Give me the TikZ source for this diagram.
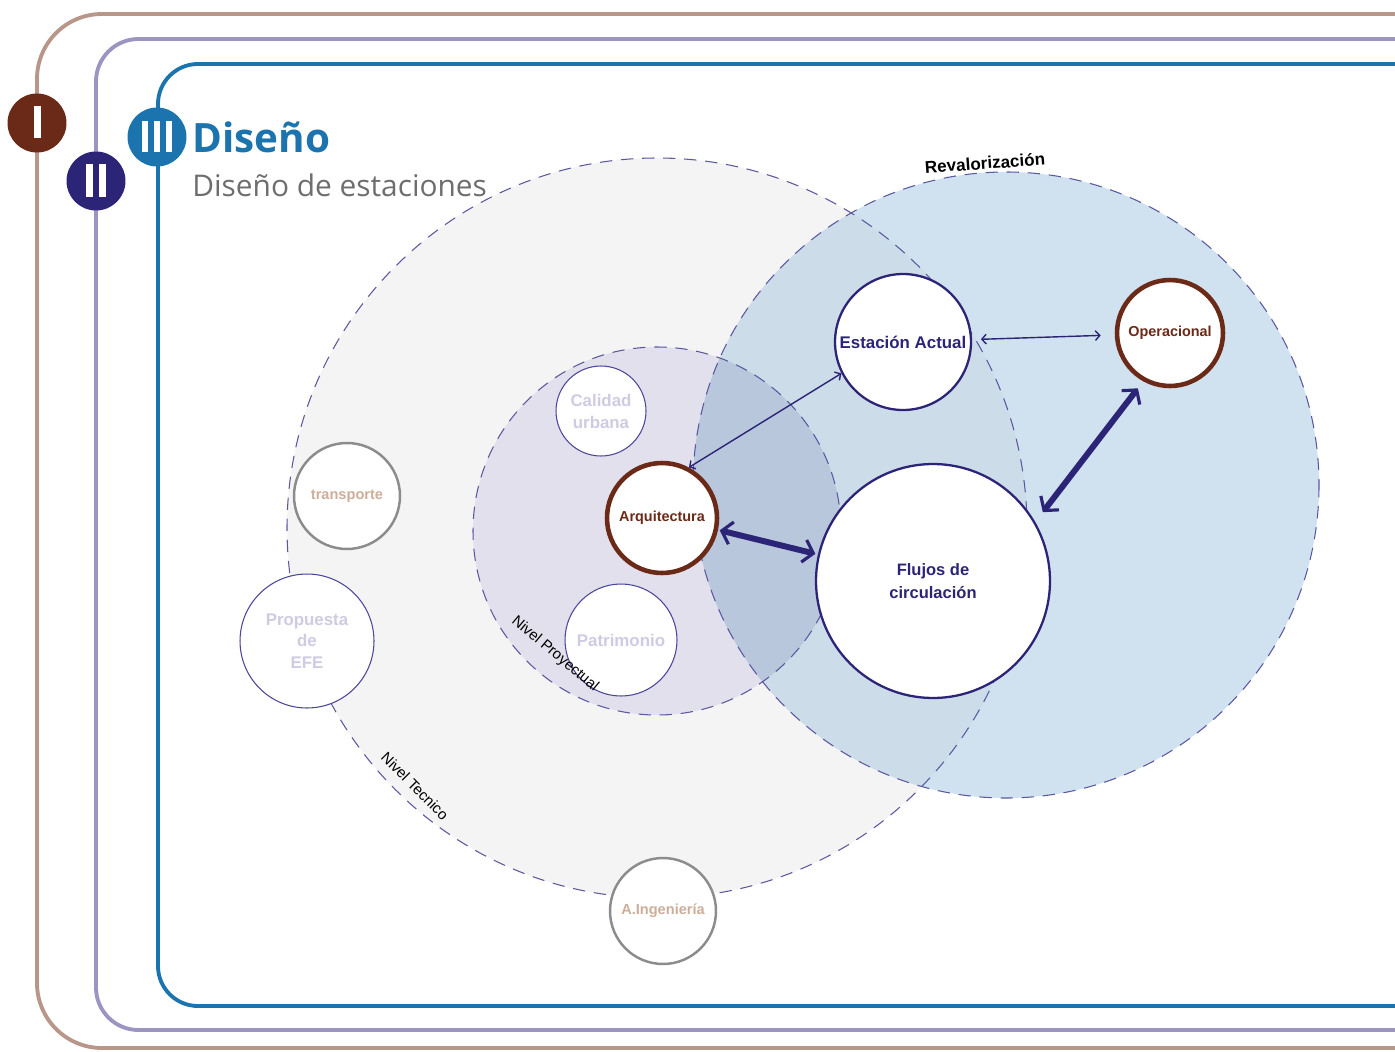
\documentclass[tikz,border=0pt]{standalone}
\usepackage{fontspec}
\setmainfont{Liberation Sans}
\newfontfamily\titlefont{Open Sans}
\usetikzlibrary{arrows.meta}
\definecolor{brownframe}{HTML}{B8978A}
\definecolor{purpleframe}{HTML}{9C95C2}
\definecolor{blueframe}{HTML}{1C74AF}
\definecolor{badgebrown}{HTML}{6B2A17}
\definecolor{navy}{HTML}{2B2477}
\definecolor{tecfill}{HTML}{F4F4F4}
\definecolor{proyfill}{HTML}{E2E0EC}
\definecolor{revfill}{HTML}{D0E2EF}
\definecolor{revtec}{HTML}{CCDCE8}
\definecolor{revproy}{HTML}{B8C7DB}
\definecolor{dashcol}{HTML}{5A58A0}
\definecolor{lav}{HTML}{CFCBE3}
\definecolor{tanc}{HTML}{CDAE9A}
\definecolor{grayring}{HTML}{8C8C8C}
\definecolor{thinnavy}{HTML}{4A4699}
\definecolor{subgray}{HTML}{6E6E6E}
\begin{document}
\begin{tikzpicture}[x=0.02cm,y=-0.02cm,
  zone/.style={draw=dashcol, line width=0.6pt, dash pattern=on 7pt off 5pt},
  bub/.style={circle, fill=white, inner sep=0pt, align=center, font=\bfseries\fontsize{9.6}{12.5}\selectfont},
  pale/.style={bub, draw=thinnavy, line width=0.6pt, text=lav},
  tech/.style={bub, draw=grayring, line width=1.4pt, text=tanc, font=\bfseries\fontsize{8.3}{10}\selectfont},
  core/.style={bub, draw=navy, line width=1.3pt, text=navy},
  keynode/.style={bub, draw=badgebrown, line width=2.6pt, text=badgebrown, font=\bfseries\fontsize{8.2}{10}\selectfont},
  thinarrow/.style={draw=navy, line width=0.8pt, {Straight Barb[length=2.5pt,width=5.5pt]}-{Straight Barb[length=2.5pt,width=5.5pt]}},
  thickarrow/.style={draw=navy, line width=3.4pt, {Straight Barb[length=5.5pt,width=13pt,line width=1.8pt]}-{Straight Barb[length=5.5pt,width=13pt,line width=1.8pt]}},
  badge/.style={circle, inner sep=0pt, minimum size=1.18cm},
  frame/.style={line width=2.2pt},
  lvl/.style={font=\fontsize{8.5}{10}\selectfont, text=black}
]
\useasboundingbox (0,0) rectangle (1395,1051);
\clip (0,0) rectangle (1395,1051);

% frames
\draw[frame, draw=brownframe, rounded corners=1.3cm] (1450,14) -- (37,14) -- (37,1048) -- (1450,1048);
\draw[frame, draw=purpleframe, rounded corners=0.85cm] (1450,39) -- (96,39) -- (96,1030) -- (1450,1030);
\draw[frame, draw=blueframe, rounded corners=0.8cm] (1450,64) -- (158,64) -- (158,1006) -- (1450,1006);

% badges
\node[badge, fill=badgebrown] (bI) at (37,123) {};
\fill[white] (33.5,106) rectangle (40.5,138);
\node[badge, fill=navy] (bII) at (96,181) {};
\fill[white] (86,164) rectangle (93,197);
\fill[white] (99,164) rectangle (106,197);
\node[badge, fill=blueframe] (bIII) at (157,137) {};
\fill[white] (142,121) rectangle (148,152);
\fill[white] (154,121) rectangle (160,152);
\fill[white] (166,121) rectangle (172,152);

% titles
\node[anchor=base west, inner sep=0pt, text=blueframe, font=\titlefont\bfseries\fontsize{23}{26}\selectfont] (title) at (192,152) {Diseño};
\node[anchor=base west, inner sep=0pt, text=subgray, font=\titlefont\fontsize{17}{20}\selectfont] (subtitle) at (192,196) {Diseño de estaciones};

% zones fills
\fill[tecfill] (657,528) circle[radius=370];
\fill[proyfill] (657,531) circle[radius=184];
\fill[revfill] (1006,485) circle[radius=313];
\begin{scope}
  \clip (1006,485) circle[radius=313];
  \fill[revtec] (657,528) circle[radius=370];
  \fill[revproy] (657,531) circle[radius=184];
\end{scope}
% zone outlines
\draw[zone] (657,528) circle[radius=370];
\draw[zone] (657,531) circle[radius=184];
\draw[zone] (1006,485) circle[radius=313];

% nodes
\node[pale, minimum size=1.8cm] (cal) at (601,411) {Calidad\\urbana};
\node[pale, minimum size=2.24cm] (pat) at (621,640) {Patrimonio};
\node[pale, minimum size=2.68cm, font=\bfseries\fontsize{9.6}{12.4}\selectfont] (efe) at (307,641) {Propuesta\\de\\EFE};
\node[tech, minimum size=2.12cm] (tra) at (347,496) {transporte};
\node[tech, minimum size=2.12cm] (ing) at (663,911) {A.Ingeniería};
\node[keynode, minimum size=2.2cm] (arq) at (662,518) {Arquitectura};
\node[keynode, minimum size=2.12cm] (op) at (1170,333) {Operacional};
\node[core, minimum size=2.72cm] (est) at (903,342) {Estación Actual};
\node[core, minimum size=4.68cm, font=\bfseries\fontsize{9.4}{13}\selectfont] (flu) at (933,581) {Flujos de\\circulación};

% connectors
\draw[thinarrow, shorten <=5pt, shorten >=8pt] (est.2) -- (op.182);
\draw[thinarrow] (est.207) -- (arq.62);
\draw[thickarrow, shorten <=1pt, shorten >=1.5pt] (arq.-12) -- (flu.167);
\draw[thickarrow, shorten <=7pt, shorten >=5pt] (flu.30) -- (op.241);

% labels
\node[rotate=4, font=\bfseries\fontsize{9.7}{12}\selectfont, text=black] (revlab) at (985,163) {Revalorización};
\node[lvl, rotate=-40] (proylab) at (555,654) {Nivel Proyectual};
\node[lvl, rotate=-45] (teclab) at (415,786) {Nivel Tecnico};
\end{tikzpicture}
\end{document}
